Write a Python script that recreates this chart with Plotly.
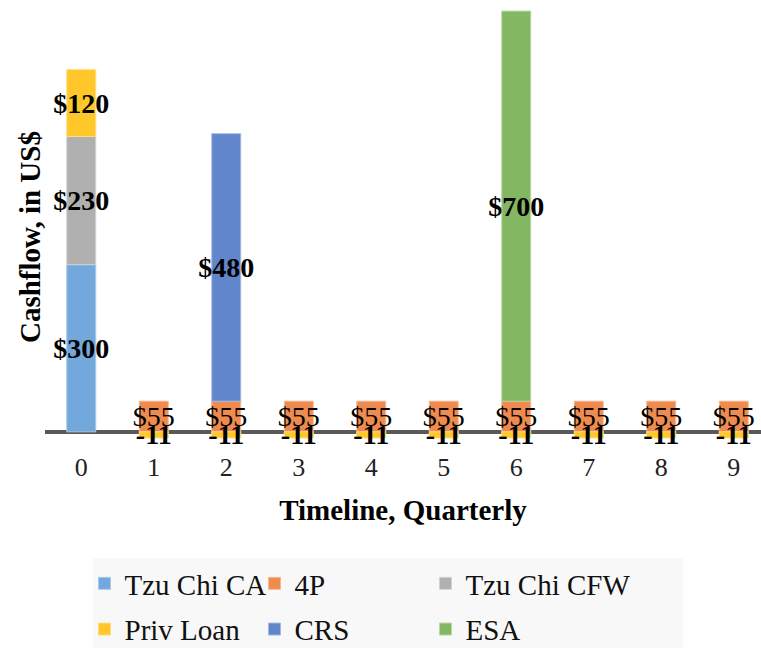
import plotly.graph_objects as go

quarters = [0, 1, 2, 3, 4, 5, 6, 7, 8, 9]
tzu_chi_ca = [300, None, None, None, None, None, None, None, None, None]
four_p = [None, 55, 55, 55, 55, 55, 55, 55, 55, 55]
tzu_chi_cfw = [230, None, None, None, None, None, None, None, None, None]
priv_loan = [120, -11, -11, -11, -11, -11, -11, -11, -11, -11]
crs = [None, None, 480, None, None, None, None, None, None, None]
esa = [None, None, None, None, None, None, 700, None, None, None]

FONT = "Liberation Serif, Times New Roman, serif"

def labels(vals):
    out = []
    for v in vals:
        if v is None:
            out.append("")
        elif v >= 0:
            out.append(f"${v}")
        else:
            out.append(f"{v}")
    return out

# name, values, fill, outline, legend column, bold label
series = [
    ("Tzu Chi CA", tzu_chi_ca, "#72a8dc", "#a9c9ea", "legend", True),
    ("4P", four_p, "#ef8b4e", "#f6b994", "legend2", False),
    ("Tzu Chi CFW", tzu_chi_cfw, "#b0b0b0", "#d2d2d2", "legend3", True),
    ("Priv Loan", priv_loan, "#ffc72a", "#ffdc80", "legend", True),
    ("CRS", crs, "#6186cc", "#a3b8e2", "legend2", True),
    ("ESA", esa, "#83b762", "#b8d7a4", "legend3", True),
]

fig = go.Figure()
for name, vals, color, line, leg, bold in series:
    txt = labels(vals)
    if bold:
        txt = [f"<b>{t}</b>" if t else "" for t in txt]
    fig.add_trace(go.Bar(
        x=quarters, y=vals, name=name, legend=leg, legendgroup=name,
        marker=dict(color=color, line=dict(color=line, width=1)),
        width=0.4,
        text=txt, textposition="inside", insidetextanchor="middle",
        constraintext="none", textangle=0,
        textfont=dict(family=FONT, size=28, color="black"),
        cliponaxis=False,
    ))

legend_common = dict(orientation="v", xanchor="left", yanchor="top", y=-0.2656,
                     bgcolor="rgba(0,0,0,0)", font=dict(family=FONT, size=29, color="#111"),
                     traceorder="grouped", tracegroupgap=5)

# legend background panel
fig.add_shape(type="rect", xref="paper", yref="paper",
              x0=0.067, x1=0.891, y0=-0.2656, y1=-0.48,
              fillcolor="#f8f8f8", line=dict(width=0), layer="below")

fig.update_layout(
    width=761, height=648,
    barmode="relative",
    paper_bgcolor="white", plot_bgcolor="rgba(0,0,0,0)",
    margin=dict(l=45, r=0, t=10, b=205, autoexpand=False),
    font=dict(family=FONT, color="black"),
    showlegend=True,
    legend=dict(x=0.0552, **legend_common),
    legend2=dict(x=0.2926, **legend_common),
    legend3=dict(x=0.5314, **legend_common),
    annotations=[dict(
        text="<b>Cashflow, in US$</b>", xref="paper", yref="paper",
        x=-0.021, y=0.4757, xanchor="center", yanchor="middle",
        textangle=-90, showarrow=False, font=dict(family=FONT, size=29, color="black"),
    )],
)
fig.update_xaxes(
    range=[-0.5, 9.376], tickmode="array", tickvals=quarters,
    ticktext=[str(q) for q in quarters],
    tickfont=dict(family=FONT, size=26, color="#222"),
    ticks="outside", ticklen=1, tickcolor="rgba(0,0,0,0)",
    showline=False, showgrid=False, zeroline=False,
    title=dict(text="<b>Timeline, Quarterly</b>", font=dict(family=FONT, size=29), standoff=18),
)
fig.update_yaxes(
    range=[-20, 757], showticklabels=False, showgrid=False,
    zeroline=True, zerolinecolor="#595959", zerolinewidth=4, showline=False,
)

fig.write_html("out.html")
